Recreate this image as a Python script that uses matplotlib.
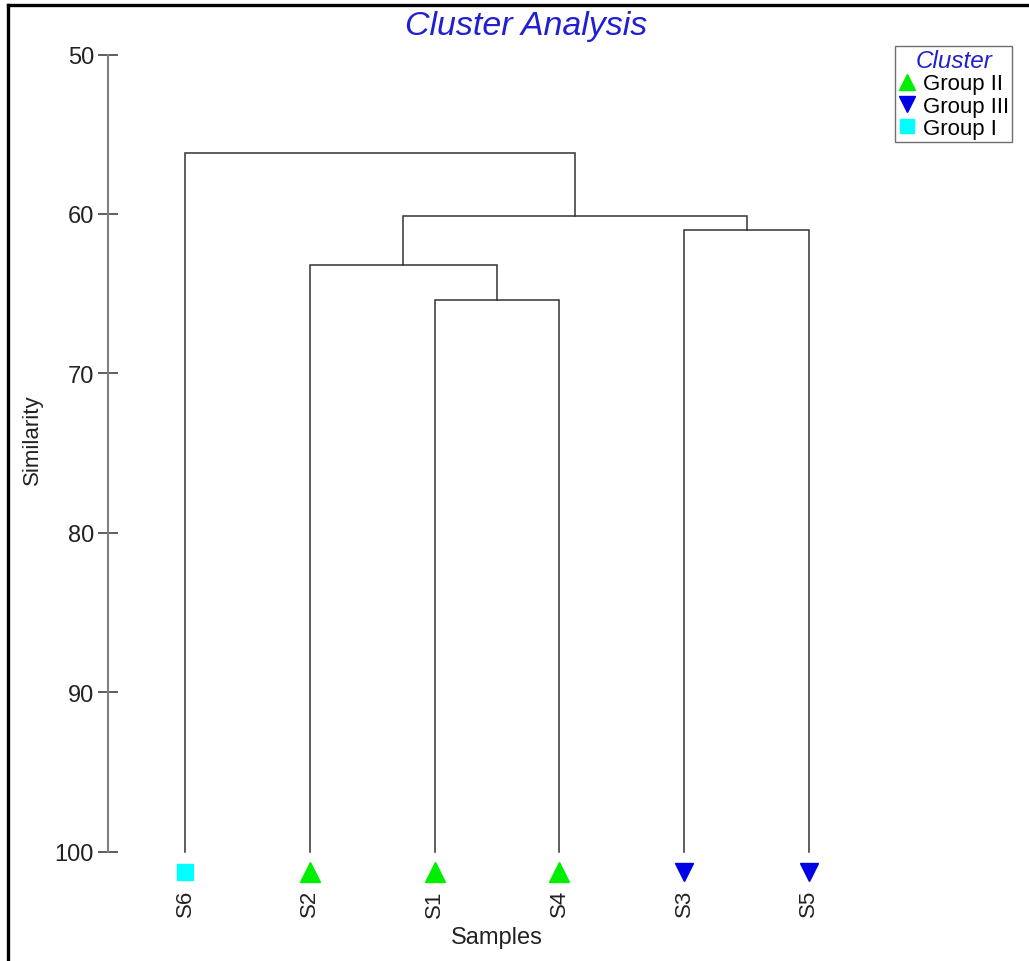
import numpy as np
import matplotlib
matplotlib.use("Agg")
import matplotlib.pyplot as plt
from matplotlib.lines import Line2D

plt.rcParams['font.family'] = ['Liberation Sans', 'DejaVu Sans']

# ==========================
# Datos del dendrograma
# ==========================
leaves = ['S6', 'S2', 'S1', 'S4', 'S3', 'S5']
leaf_group = ['Group I', 'Group II', 'Group II', 'Group II', 'Group III', 'Group III']

# uniones: nodos 0-5 son hojas, 6+ son clusters en orden de union
merge_a = [2, 1, 4, 7, 0]
merge_b = [3, 6, 5, 8, 9]
merge_h = [65.4, 63.2, 61.0, 60.1, 56.2]

group_names = ['Group II', 'Group III', 'Group I']
group_colors = {'Group II': '#00ee00', 'Group III': '#0000e6', 'Group I': '#00ffff'}
group_markers = {'Group II': '^', 'Group III': 'v', 'Group I': 's'}
group_sizes = {'Group II': 14, 'Group III': 13, 'Group I': 12}

yticks = [50, 60, 70, 80, 90, 100]

# ==========================
# Figura
# ==========================
W, H = 1029, 962
fig = plt.figure(figsize=(W / 100, H / 100), dpi=100)
ax = fig.add_axes([107.5 / W, 1 - 852.7 / H, 772.5 / W, 797.2 / H])

line_col = '#333333'
node_x = list(np.arange(1, len(leaves) + 1, dtype=float))
node_y = [100.0] * len(leaves)

for a, b, h in zip(merge_a, merge_b, merge_h):
    xa, ya = node_x[a], node_y[a]
    xb, yb = node_x[b], node_y[b]
    ax.plot([xa, xa, xb, xb], [ya, h, h, yb], color=line_col, lw=1.1,
            solid_joinstyle='miter', clip_on=False)
    node_x.append((xa + xb) / 2)
    node_y.append(h)

# marcadores de las hojas
for i, g in enumerate(leaf_group):
    ax.plot(i + 1, 101.3, marker=group_markers[g], color=group_colors[g],
            markersize=group_sizes[g], linestyle='none', clip_on=False)

ax.set_ylim(100, 50)
ax.set_xlim(0.378, 6.57)

for s in ['top', 'right', 'bottom']:
    ax.spines[s].set_visible(False)
ax.spines['left'].set_color('#808080')
ax.spines['left'].set_linewidth(1.5)

ax.set_yticks(yticks)
ax.tick_params(axis='y', direction='inout', length=13.7, width=1.1,
               color='#333333', labelsize=17, pad=2.9, labelcolor='#222222')
ax.set_xticks(np.arange(1, len(leaves) + 1))
ax.set_xticklabels(leaves, rotation=90, fontsize=16, color='#222222')
ax.tick_params(axis='x', length=0, pad=27, labelsize=16)
for lbl in ax.get_xticklabels():
    lbl.set_va('top')

ax.set_ylabel('Similarity', fontsize=16, color='#222222')
ax.yaxis.set_label_coords(-0.0835, 0.518)
ax.set_xlabel('Samples', fontsize=17, color='#222222')
ax.xaxis.label.set_va('center')
ax.xaxis.set_label_coords(0.504, -0.107)

fig.text(526 / W, 1 - 27 / H, 'Cluster Analysis', fontsize=24.5, style='italic',
         color='#2020d0', ha='center', va='center')

# ==========================
# Leyenda
# ==========================
handles = [Line2D([], [], marker=group_markers[g], color=group_colors[g],
                  markersize=group_sizes[g] * 0.85, linestyle='none')
           for g in group_names]
leg = ax.legend(handles, group_names, title='Cluster', loc='upper left',
                bbox_to_anchor=(895 / W, 1 - 47 / H),
                bbox_transform=fig.transFigure, fontsize=16,
                title_fontsize=17.5, fancybox=False, framealpha=1,
                edgecolor='#707070', handlelength=0.8, handletextpad=0.3,
                borderpad=0.15, labelspacing=0.05, borderaxespad=0)
leg.get_title().set_color('#2020d0')
leg.get_title().set_style('italic')
leg.get_frame().set_linewidth(1.0)

# marco de la figura
fig.add_artist(Line2D([8 / W, 8 / W], [0, 1 - 5.5 / H], color='black', lw=2.4,
                      transform=fig.transFigure))
fig.add_artist(Line2D([8 / W, 1], [1 - 5.5 / H, 1 - 5.5 / H], color='black', lw=2.4,
                      transform=fig.transFigure))

fig.savefig('out.png', dpi=100)
